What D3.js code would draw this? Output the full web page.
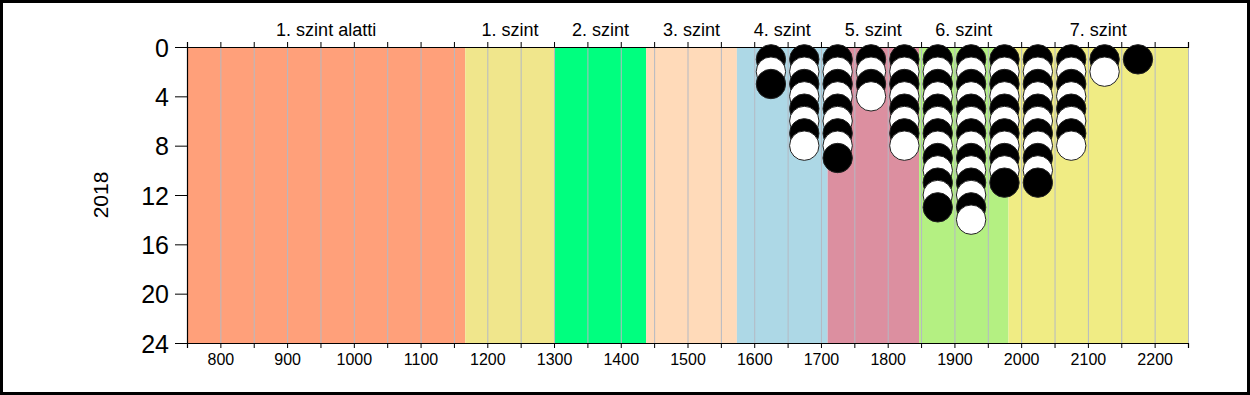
<!DOCTYPE html>
<html>
<head>
<meta charset="utf-8">
<script src="https://cdn.jsdelivr.net/npm/d3@7/dist/d3.min.js"></script>
<style>
  html, body { margin: 0; padding: 0; background: #fff; overflow: hidden; }
  svg { display: block; }
  text { font-family: "Liberation Sans", Arial, sans-serif; fill: #000; }
</style>
</head>
<body>
<svg id="chart"></svg>
<script>
/*************** data *****************/
var bandNames = ["1. szint alatti", "1. szint", "2. szint", "3. szint", "4. szint", "5. szint", "6. szint", "7. szint"];
var bandEdges = [750, 1167, 1301, 1438, 1574, 1710, 1847, 1981, 2250];
var binCenters = [1625, 1675, 1725, 1775, 1825, 1875, 1925, 1975, 2025, 2075, 2125, 2175];
var binCounts = [3, 8, 9, 4, 8, 13, 14, 11, 11, 8, 2, 1];
var xTicks = d3.range(750, 2251, 50);
var xLabels = d3.range(800, 2201, 100);
var yTicks = [0, 4, 8, 12, 16, 20, 24];
var yearLabel = "2018";

/*************** settings *****************/
var width = 1250,
	height = 395,
	margin = {top: 47, right: 62, bottom: 52, left: 187},
	bandColors = ["#FFA07A", "#F0E68C", "#00FF7F", "#FFDAB9", "#ADD8E6", "#DC8FA0", "#B4F082", "#F0EC84"],
	gridColor = "#B4B9C3",
	dotRadius = 14.7;

var svg = d3.select("#chart")
	.attr("width", width)
	.attr("height", height);

var innerWidth = width - margin.left - margin.right;
var innerHeight = height - margin.top - margin.bottom;

var x = d3.scaleLinear().domain([750, 2250]).range([0, innerWidth]);
var y = d3.scaleLinear().domain([0, 24]).range([0, innerHeight]);

var g = svg.append("g")
	.attr("transform", "translate(" + margin.left + "," + margin.top + ")");

// level bands
var bands = bandNames.map(function(name, i) {
	return {name: name, x0: bandEdges[i], x1: bandEdges[i + 1], color: bandColors[i]};
});

g.append("g").attr("class", "bands")
	.selectAll("rect")
	.data(bands)
	.enter().append("rect")
		.attr("x", function(d) { return x(d.x0); })
		.attr("y", 0)
		.attr("width", function(d) { return x(d.x1) - x(d.x0); })
		.attr("height", innerHeight)
		.attr("fill", function(d) { return d.color; });

// vertical grid
g.append("g").attr("class", "grid")
	.selectAll("line")
	.data(xTicks.slice(1))
	.enter().append("line")
		.attr("x1", function(d) { return x(d) + 0.5; })
		.attr("x2", function(d) { return x(d) + 0.5; })
		.attr("y1", 0)
		.attr("y2", innerHeight)
		.attr("stroke", gridColor)
		.attr("stroke-width", 1);

// band labels on top
g.append("g").attr("class", "band-labels")
	.selectAll("text")
	.data(bands)
	.enter().append("text")
		.attr("x", function(d) { return (x(d.x0) + x(d.x1)) / 2; })
		.attr("y", -11)
		.attr("text-anchor", "middle")
		.style("font-size", "18px")
		.text(function(d) { return d.name; });

// axes: tick marks every 50, labels every 100
g.append("g")
	.call(d3.axisTop(x).tickValues(xTicks).tickSize(5).tickFormat(""))
	.call(function(a) { a.selectAll("text").remove(); });

g.append("g")
	.attr("transform", "translate(0," + innerHeight + ")")
	.call(d3.axisBottom(x).tickValues(xTicks).tickSize(5).tickFormat(""))
	.call(function(a) { a.selectAll("text").remove(); });

g.append("g")
	.attr("transform", "translate(0," + innerHeight + ")")
	.call(d3.axisBottom(x).tickValues(xLabels).tickSize(0).tickPadding(8).tickFormat(d3.format("d")))
	.call(function(a) {
		a.select(".domain").remove();
		a.selectAll("text").style("font-size", "16px").attr("dy", "0.9em");
	});

g.append("g")
	.call(d3.axisLeft(y).tickValues(yTicks).tickSize(12).tickPadding(6).tickSizeOuter(0))
	.call(function(a) { a.selectAll("text").style("font-size", "25px").attr("dy", "0.36em"); });

g.selectAll(".domain").attr("stroke", "#000").attr("stroke-width", 1.2);
g.selectAll(".tick line").attr("stroke", "#000");

// dots: stacked in each bin, later ones drawn over earlier ones
var dots = [];
binCenters.forEach(function(c, i) {
	for (var k = 1; k <= binCounts[i]; k++) dots.push({x: c, k: k});
});

g.append("g").attr("class", "dots")
	.selectAll("circle")
	.data(dots)
	.enter().append("circle")
		.attr("cx", function(d) { return x(d.x); })
		.attr("cy", function(d) { return y(d.k); })
		.attr("r", dotRadius)
		.attr("fill", function(d) { return d.k % 2 === 1 ? "#000" : "#fff"; })
		.attr("stroke", "#222")
		.attr("stroke-width", 1);

// y title
svg.append("text")
	.attr("transform", "translate(108," + (margin.top + innerHeight / 2) + ") rotate(-90)")
	.attr("text-anchor", "middle")
	.style("font-size", "21px")
	.text(yearLabel);

// outer frame
svg.append("rect")
	.attr("x", 1.5).attr("y", 1.5)
	.attr("width", width - 3).attr("height", height - 3)
	.attr("fill", "none")
	.attr("stroke", "#000")
	.attr("stroke-width", 3);
</script>
</body>
</html>
